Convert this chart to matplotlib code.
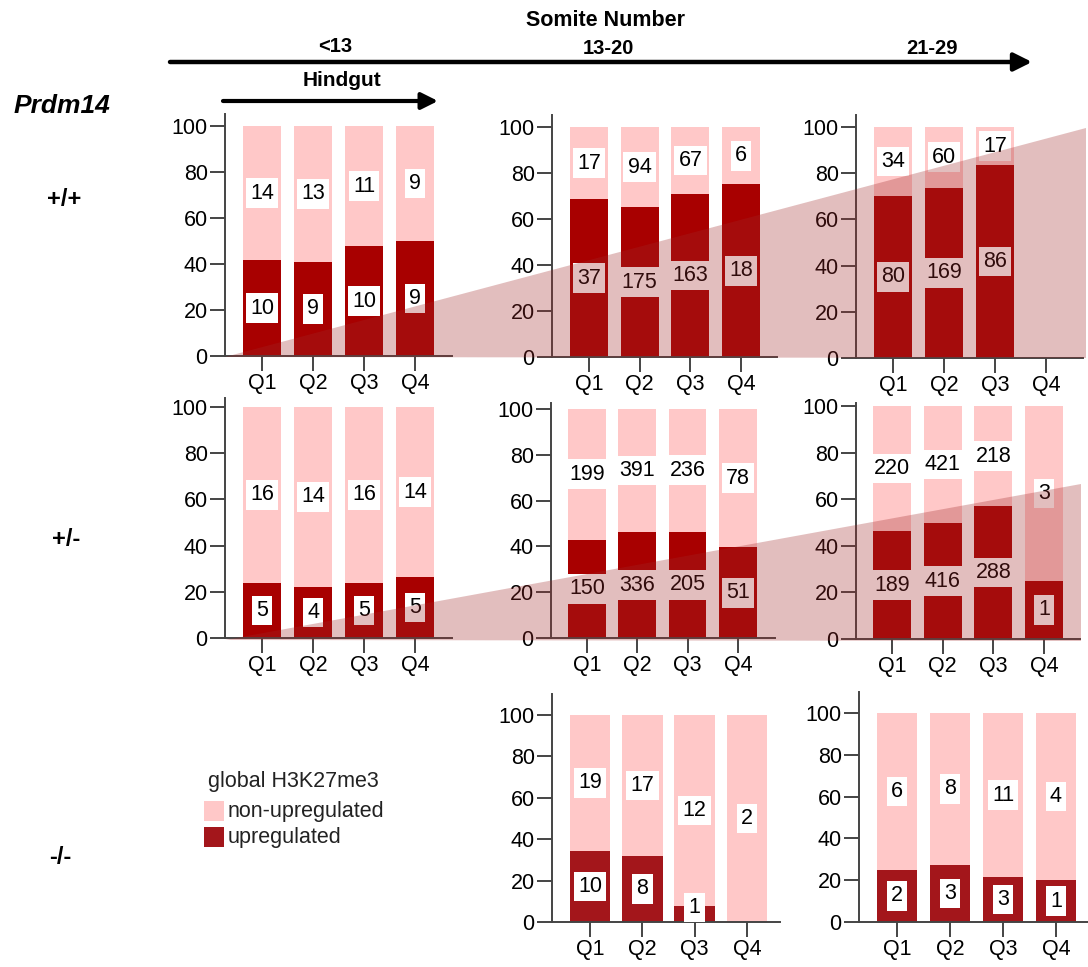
import numpy as np
import matplotlib
matplotlib.use('Agg')
import matplotlib.pyplot as plt
from matplotlib.patches import Polygon, FancyArrowPatch, Rectangle

plt.rcParams['font.family'] = ['Liberation Sans', 'DejaVu Sans']

quartiles = ['Q1', 'Q2', 'Q3', 'Q4']

# cell counts per hindgut quartile (upregulated / non-upregulated)
wt_lt13_up = [10, 9, 10, 9]
wt_lt13_non = [14, 13, 11, 9]
wt_13_20_up = [37, 175, 163, 18]
wt_13_20_non = [17, 94, 67, 6]
wt_21_29_up = [80, 169, 86, 0]
wt_21_29_non = [34, 60, 17, 0]

het_lt13_up = [5, 4, 5, 5]
het_lt13_non = [16, 14, 16, 14]
het_13_20_up = [150, 336, 205, 51]
het_13_20_non = [199, 391, 236, 78]
het_21_29_up = [189, 416, 288, 1]
het_21_29_non = [220, 421, 218, 3]

ko_13_20_up = [10, 8, 1, 0]
ko_13_20_non = [19, 17, 12, 2]
ko_21_29_up = [2, 3, 3, 1]
ko_21_29_non = [6, 8, 11, 4]

LIGHT = '#ffc8c8'
DARK = '#a80000'
DARK_KO = '#a3161b'
AXC = '#444444'

W, H = 1088, 967
fig = plt.figure(figsize=(W / 100, H / 100), dpi=100)


def fx(x):
    return x / W


def fy(y):
    return 1 - y / H


def panel(up, non, x0, x1, y0, y100, ytop, c1, sp, dark=DARK, width=0.75):
    scale = (y0 - y100) / 100.0
    top = y0 - ytop * scale
    ax = fig.add_axes([fx(x0), fy(y0), (x1 - x0) / W, (y0 - top) / H])
    up = np.array(up, float)
    non = np.array(non, float)
    tot = up + non
    pct = np.where(tot > 0, 100 * up / np.maximum(tot, 1), 0)
    full = np.where(tot > 0, 100, 0)
    x = np.arange(len(quartiles))
    ax.bar(x, full, width=width, color=LIGHT, zorder=1)
    ax.bar(x, pct, width=width, color=dark, zorder=2)
    box = dict(boxstyle='square,pad=0.2', fc='white', ec='none')
    for i in x:
        if non[i] > 0:
            ax.text(i, (pct[i] + 100) / 2, f'{int(non[i])}', ha='center', va='center',
                    fontsize=15.5, bbox=box, zorder=3)
        if up[i] > 0:
            ax.text(i, max(pct[i] / 2, 7), f'{int(up[i])}', ha='center', va='center',
                    fontsize=15.5, bbox=box, zorder=3)
    ax.set_xlim((x0 - c1) / sp, (x1 - c1) / sp)
    ax.set_ylim(0, ytop)
    ax.set_xticks(x)
    ax.set_xticklabels(quartiles)
    ax.set_yticks([0, 20, 40, 60, 80, 100])
    for s in ['top', 'right']:
        ax.spines[s].set_visible(False)
    for s in ['left', 'bottom']:
        ax.spines[s].set_linewidth(1.4)
        ax.spines[s].set_color(AXC)
    ax.tick_params(direction='out', length=11, width=1.4, color=AXC, pad=1.5,
                   labelsize=15.5)
    ax.patch.set_alpha(0)
    return ax


# +/+
panel(wt_lt13_up, wt_lt13_non, 225, 452, 356, 126, 105, 262, 51)
panel(wt_13_20_up, wt_13_20_non, 552, 777, 357, 127, 105, 589, 50.7)
panel(wt_21_29_up, wt_21_29_non, 856, 1083, 358, 127, 105, 893, 51)
# +/-
panel(het_lt13_up, het_lt13_non, 225, 452, 638, 407, 104, 262, 51)
panel(het_13_20_up, het_13_20_non, 551, 775, 638, 409, 102.5, 587, 50.3)
panel(het_21_29_up, het_21_29_non, 856, 1080, 639, 406, 101.5, 892, 50.7)
# -/-
panel(ko_13_20_up, ko_13_20_non, 552, 780, 922, 715, 110, 590, 52.3, dark=DARK_KO, width=0.78)
panel(ko_21_29_up, ko_21_29_non, 859, 1088, 922, 713, 110, 897, 53, dark=DARK_KO, width=0.76)

# shaded wedges across rows
for pts in ([(225, 357), (1086, 128), (1086, 358)],
            [(225, 640), (1081, 484), (1081, 641)]):
    fig.add_artist(Polygon([(fx(a), fy(b)) for a, b in pts], closed=True,
                           transform=fig.transFigure, fc=(0.63, 0.16, 0.16),
                           alpha=0.3, ec='none', zorder=10))

# somite / hindgut arrows
fig.add_artist(FancyArrowPatch((fx(170), fy(62)), (fx(1032), fy(62)),
                               transform=fig.transFigure,
                               arrowstyle='-|>,head_length=0.9,head_width=0.45',
                               mutation_scale=12, lw=3.2, color='black',
                               shrinkA=0, shrinkB=0))
fig.add_artist(FancyArrowPatch((fx(223), fy(101)), (fx(438), fy(101)),
                               transform=fig.transFigure,
                               arrowstyle='-|>,head_length=0.9,head_width=0.45',
                               mutation_scale=11, lw=3, color='black',
                               shrinkA=0, shrinkB=0))

bold = dict(fontweight='bold', ha='center', va='center')
fig.text(fx(605), fy(21), 'Somite Number', fontsize=15.5, **bold)
fig.text(fx(335), fy(46), '<13', fontsize=14.5, **bold)
fig.text(fx(608), fy(48), '13-20', fontsize=14.5, **bold)
fig.text(fx(932), fy(48), '21-29', fontsize=14.5, **bold)
fig.text(fx(342), fy(81), 'Hindgut', fontsize=15, **bold)
fig.text(fx(62), fy(106), 'Prdm14', fontsize=19, fontstyle='italic', **bold)
fig.text(fx(64), fy(200), '+/+', fontsize=17, **bold)
fig.text(fx(66), fy(540), '+/-', fontsize=17, **bold)
fig.text(fx(60), fy(857), '-/-', fontsize=17, **bold)

# legend
fig.text(fx(208), fy(782), 'global H3K27me3', fontsize=15.5, va='center', color='#222222')
for yy, col, lab in [(811, LIGHT, 'non-upregulated'), (837, DARK_KO, 'upregulated')]:
    fig.add_artist(Rectangle((fx(204), fy(yy + 10)), 20 / W, 20 / H,
                             transform=fig.transFigure, fc=col, ec='none'))
    fig.text(fx(228), fy(yy), lab, fontsize=15.5, va='center', color='#222222')

fig.savefig('out.png', dpi=100)
